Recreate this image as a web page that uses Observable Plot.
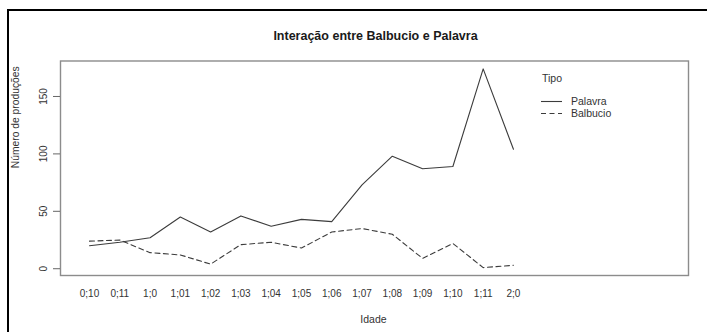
<!DOCTYPE html>
<html>
<head>
<meta charset="utf-8">
<script src="https://cdn.jsdelivr.net/npm/d3@7"></script>
<script src="https://cdn.jsdelivr.net/npm/@observablehq/plot@0.6"></script>
<style>
  html, body { margin: 0; padding: 0; background: #fff; overflow: hidden; width: 707px; height: 332px; }
  #wrap { position: relative; width: 707px; height: 332px; overflow: hidden; }
  #frame { position: absolute; left: 7px; top: 9px; width: 720px; height: 360px; border: 2px solid #000; box-sizing: border-box; }
  #chart { position: absolute; left: 0; top: 0; }
</style>
</head>
<body>
<div id="wrap"><div id="frame"></div><div id="chart"></div></div>
<script>
const title = "Interação entre Balbucio e Palavra";
const xLabel = "Idade";
const yLabel = "Número de produções";
const legendTitle = "Tipo";
const ages = ["0;10","0;11","1;0","1;01","1;02","1;03","1;04","1;05","1;06","1;07","1;08","1;09","1;10","1;11","2;0"];
const palavra = [20, 23, 27, 45, 32, 46, 37, 43, 41, 73, 98, 87, 89, 174, 104];
const balbucio = [24, 25, 14, 12, 4, 21, 23, 18, 32, 35, 30, 9, 22, 1, 3];
const yTicks = [0, 50, 100, 150];
const seriesNames = ["Palavra", "Balbucio"];
const dashes = {Palavra: null, Balbucio: "5,3.5"};

const idx = ages.map((d, i) => i + 1);
const rowsP = ages.map((a, i) => ({i: i + 1, idade: a, tipo: "Palavra", valor: palavra[i]}));
const rowsB = ages.map((a, i) => ({i: i + 1, idade: a, tipo: "Balbucio", valor: balbucio[i]}));

const lineColor = "#3c3c3c";
const chart = Plot.plot({
  width: 707,
  height: 332,
  marginLeft: 60,
  marginRight: 19,
  marginTop: 60.5,
  marginBottom: 57,
  style: {fontFamily: "'Liberation Sans', Arial, sans-serif", background: "transparent", overflow: "visible", color: "#333"},
  x: {type: "linear", domain: [0.043, 20.78], axis: null},
  y: {domain: [-5.9, 180.9], axis: null},
  marks: [
    Plot.frame({stroke: "#8c8c8c", strokeWidth: 1.4}),
    Plot.line(rowsP, {x: "i", y: "valor", stroke: lineColor, strokeWidth: 1.1}),
    Plot.line(rowsB, {x: "i", y: "valor", stroke: lineColor, strokeWidth: 1.1, strokeDasharray: dashes.Balbucio}),
    Plot.axisY(yTicks, {tickSize: 7, tickRotate: -90, tickPadding: 7, fontSize: 10, label: null, stroke: "#666", fill: "#333"}),
    Plot.axisX(idx, {tickSize: 0, tickPadding: 14, tickFormat: i => ages[i - 1], fontSize: 10, label: null, fill: "#333"}),
    Plot.text([title], {frameAnchor: "top", dx: 1, dy: -25, fontWeight: "bold", fontSize: 12.5, fill: "#1a1a1a", lineAnchor: "middle"}),
    Plot.text([xLabel], {frameAnchor: "bottom", dx: -1, dy: 44, fontSize: 10.5, fill: "#333", lineAnchor: "middle"}),
    Plot.text([yLabel], {frameAnchor: "left", dx: -45, rotate: -90, fontSize: 10.3, fill: "#333", lineAnchor: "middle"})
  ]
});
document.getElementById("chart").appendChild(chart);

// Legend
const svg = d3.select(chart);
const lg = svg.append("g")
  .attr("font-family", "'Liberation Sans', Arial, sans-serif")
  .attr("font-size", 10.5)
  .attr("text-anchor", "start")
  .attr("fill", "#333");
lg.append("text").attr("x", 542).attr("y", 78).attr("dy", "0.35em").text(legendTitle);
seriesNames.forEach((name, k) => {
  const y = 101.5 + k * 12;
  lg.append("line").attr("x1", 541).attr("x2", 562).attr("y1", y).attr("y2", y)
    .attr("stroke", lineColor).attr("stroke-width", 1.1)
    .attr("stroke-dasharray", dashes[name]);
  lg.append("text").attr("x", 571).attr("y", y).attr("dy", "0.35em").text(name);
});
</script>
</body>
</html>
